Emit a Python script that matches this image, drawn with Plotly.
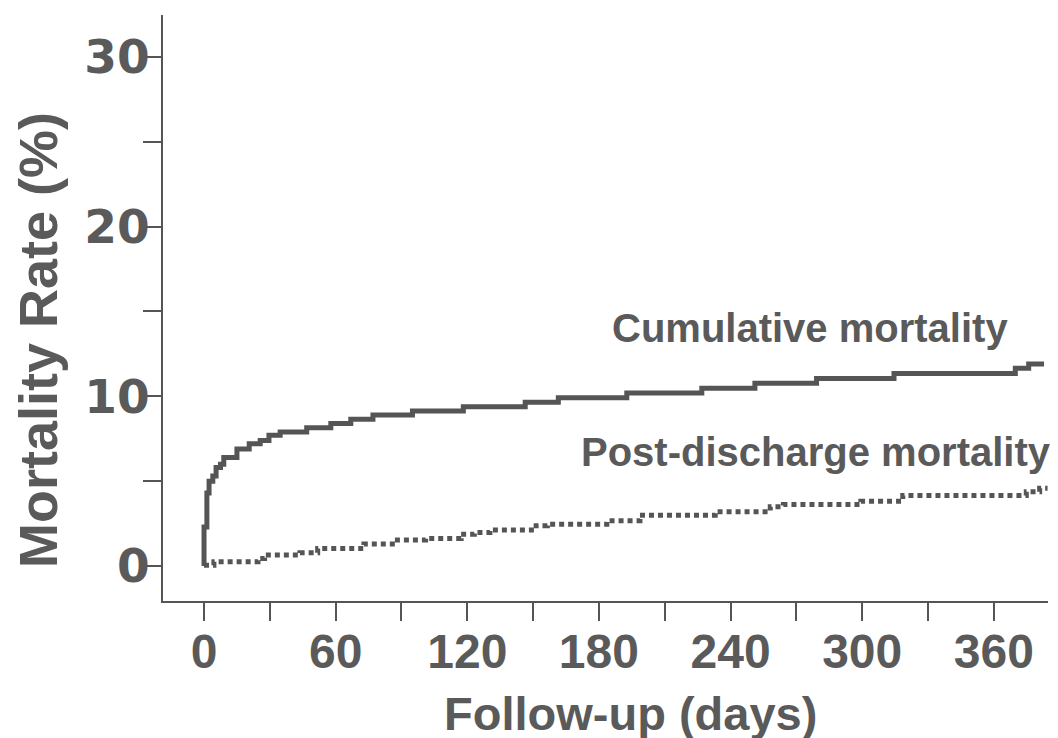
import plotly.graph_objects as go

# Cumulative mortality (step curve): day, percent
cum_days = [0, 0, 1.3, 2.3, 4, 5.5, 7.5, 9, 15, 20.6, 25.6, 29.6, 34.7, 46.8, 57.8, 66.9,
            77, 95, 118.2, 146.4, 161.5, 192.7, 226.9, 251.1, 279.2, 314.5, 369.8, 375.9,
            382.9]
cum_vals = [0, 2.3, 4.3, 5.0, 5.3, 5.8, 6.0, 6.4, 6.9, 7.2, 7.4, 7.7, 7.9, 8.15, 8.4,
            8.65, 8.9, 9.13, 9.39, 9.65, 9.92, 10.2, 10.47, 10.77, 11.05, 11.35, 11.65,
            11.9, 11.9]

# Post-discharge mortality (step curve): day, percent
post_days = [0, 4.5, 24.6, 27.6, 43.7, 51.8, 72.9, 87, 101, 117.2, 123.2, 130.3, 151.4,
             156.5, 183.6, 198.7, 233, 258.1, 264.1, 299.4, 318.5, 374.8, 380.9, 384.5]
post_vals = [0.05, 0.25, 0.45, 0.65, 0.78, 1.04, 1.3, 1.53, 1.63, 1.87, 1.97, 2.12, 2.38,
             2.46, 2.67, 3.0, 3.2, 3.5, 3.62, 3.82, 4.15, 4.38, 4.58, 4.58]

x_ticks = [0, 60, 120, 180, 240, 300, 360]
x_tick_labels = ["0", "60", "120", "180", "240", "300", "360"]
y_ticks = [0, 10, 20, 30]
y_tick_labels = ["0", "10", "20", "30"]

GRAY = "#555555"
TEXT = "#5a5a5a"
FONT = "Liberation Sans"
YFONT = "DejaVu Sans"

# figure is drawn inside the page's default 8px body margin
W, H = 1050, 730
L, R, T, B = 155, 10, 7, 137
PW, PH = W - L - R, H - T - B

fig = go.Figure()
fig.add_trace(go.Scatter(x=cum_days, y=cum_vals, mode="lines",
                         line=dict(shape="hv", color=GRAY, width=5),
                         showlegend=False, hoverinfo="skip"))
fig.add_trace(go.Scatter(x=post_days, y=post_vals, mode="lines",
                         line=dict(shape="hv", color=GRAY, width=5, dash="5px,4px"),
                         showlegend=False, hoverinfo="skip"))

fig.update_layout(
    width=W, height=H,
    margin=dict(l=L, r=R, t=T, b=B, pad=0),
    paper_bgcolor="white", plot_bgcolor="white",
    font=dict(family=FONT, color=TEXT),
    xaxis=dict(range=[-18.7, 384.7], tickvals=x_ticks, ticktext=x_tick_labels,
               ticks="outside", ticklen=18, tickwidth=2, tickcolor=GRAY,
               ticklabelstandoff=-11,
               showline=True, linecolor=GRAY, linewidth=2, showgrid=False, zeroline=False,
               tickfont=dict(family=FONT, size=48, color=TEXT, weight="bold"),
               minor=dict(tick0=0, dtick=30, ticks="outside", ticklen=18, tickwidth=2,
                          tickcolor=GRAY, showgrid=False)),
    yaxis=dict(range=[-2.06, 32.47], tickvals=y_ticks, ticktext=y_tick_labels,
               ticks="outside", ticklen=18, tickwidth=2, tickcolor=GRAY,
               ticklabelstandoff=-16,
               showline=True, linecolor=GRAY, linewidth=2, showgrid=False, zeroline=False,
               tickfont=dict(family=YFONT, size=47, color=TEXT, weight="bold"),
               minor=dict(tick0=0, dtick=5, ticks="outside", ticklen=18, tickwidth=2,
                          tickcolor=GRAY, showgrid=False)),
    annotations=[
        dict(text="Cumulative mortality", x=276.2, y=14.02, xref="x", yref="y",
             showarrow=False, xanchor="center", yanchor="middle",
             font=dict(family=FONT, size=40, color=TEXT, weight="bold")),
        dict(text="Post-discharge mortality", x=278.9, y=6.72, xref="x", yref="y",
             showarrow=False, xanchor="center", yanchor="middle",
             font=dict(family=FONT, size=40, color=TEXT, weight="bold")),
        dict(text="Mortality Rate (%)", x=(30 - L) / PW, y=(T + PH - 332) / PH,
             xref="paper", yref="paper", textangle=-90, showarrow=False,
             xanchor="center", yanchor="middle",
             font=dict(family=FONT, size=54, color=TEXT, weight="bold")),
        dict(text="Follow-up (days)", x=(622 - L) / PW, y=(T + PH - 705) / PH,
             xref="paper", yref="paper", showarrow=False,
             xanchor="center", yanchor="middle",
             font=dict(family=FONT, size=47, color=TEXT, weight="bold")),
    ],
)

fig.write_html("out.html")
